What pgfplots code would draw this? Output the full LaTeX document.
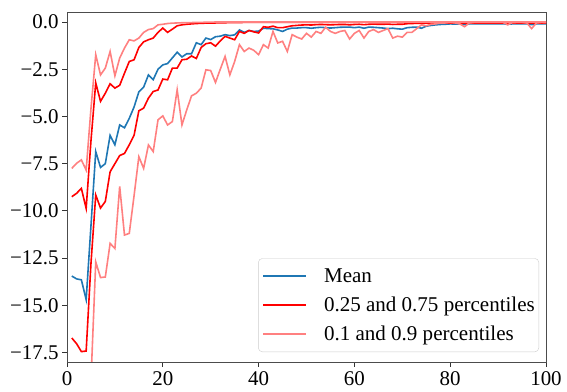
\documentclass[border=0pt]{standalone}
\usepackage{fontspec}
\setmainfont{Liberation Serif}
\usepackage{pgfplots}
\usepackage{pgfplotstable}
\pgfplotsset{compat=1.18}
\definecolor{mplblue}{HTML}{1F77B4}
\definecolor{mplred}{HTML}{FF0000}
\definecolor{mplpale}{HTML}{FF8080}

\pgfplotstableread{
x mean p25 p75 p10 p90
1 -13.45 -16.73 -9.25 -21 -7.75
2 -13.6 -17.03 -9.07 -21.5 -7.48
3 -13.65 -17.45 -8.81 -22 -7.3
4 -14.7 -17.42 -9.87 -22 -7.84
5 -10.8 -12.8 -6.3 -19 -4.6
6 -6.86 -9.16 -3.22 -12.7 -1.73
7 -7.7 -9.85 -4.2 -13.53 -2.8
8 -7.5 -9.5 -3.77 -13.5 -2.44
9 -6.0 -7.93 -3.27 -11.72 -1.56
10 -6.5 -7.5 -3.5 -11.99 -2.85
11 -5.45 -7.07 -3.35 -8.7 -1.91
12 -5.6 -6.96 -2.71 -11.28 -1.38
13 -5.1 -6.5 -2.09 -11.19 -0.94
14 -4.5 -6.0 -2.0 -9.2 -1.0
15 -3.7 -4.7 -1.35 -7.13 -0.85
16 -3.45 -4.56 -1.05 -7.75 -0.55
17 -2.8 -4.03 -0.94 -6.51 -0.4
18 -3.05 -3.68 -0.85 -6.86 -0.35
19 -2.5 -3.6 -0.55 -5.18 -0.15
20 -2.27 -3.02 -0.32 -4.97 -0.12
21 -2.2 -3.06 -0.55 -5.45 -0.08
22 -1.9 -2.44 -0.38 -5.27 -0.06
23 -1.6 -2.44 -0.2 -3.59 -0.05
24 -1.85 -2.0 -0.15 -5.45 -0.04
25 -1.68 -1.97 -0.12 -4.65 -0.03
26 -1.68 -1.8 -0.1 -3.91 -0.03
27 -1.1 -1.93 -0.08 -3.77 -0.02
28 -1.2 -1.35 -0.07 -3.5 -0.02
29 -0.85 -1.15 -0.06 -2.53 -0.01
30 -0.93 -1.1 -0.05 -2.57 -0.01
31 -0.78 -1.28 -0.05 -3.2 0
32 -0.75 -1.0 -0.04 -2.5 0
33 -0.67 -0.76 -0.04 -1.82 0
34 -0.72 -0.85 -0.03 -2.8 0
35 -0.68 -0.94 -0.03 -2.09 0
36 -0.42 -0.5 -0.03 -1.2 0
37 -0.55 -0.6 -0.02 -1.56 0
38 -0.45 -0.45 -0.02 -1.38 0
39 -0.5 -0.52 -0.02 -1.5 0
40 -0.48 -0.58 -0.02 -1.73 0
41 -0.33 -0.25 -0.02 -1.2 0
42 -0.35 -0.28 -0.02 -1.38 0
43 -0.36 -0.22 -0.02 -0.5 0
44 -0.42 -0.3 -0.02 -1.11 0
45 -0.5 -0.3 -0.02 -1.02 0
46 -0.38 -0.25 -0.02 -1.56 0
47 -0.32 -0.2 -0.02 -0.67 0
48 -0.32 -0.18 -0.02 -0.8 0
49 -0.3 -0.16 -0.02 -0.9 0
50 -0.3 -0.15 -0.02 -0.6 0
51 -0.33 -0.16 -0.02 -0.8 0
52 -0.3 -0.14 -0.02 -0.5 0
53 -0.28 -0.13 -0.02 -0.6 0
54 -0.3 -0.14 -0.02 -0.28 0
55 -0.32 -0.15 -0.02 -0.5 0
56 -0.3 -0.14 -0.02 -0.6 0
57 -0.28 -0.13 -0.02 -0.5 0
58 -0.27 -0.13 -0.02 -0.45 0
59 -0.27 -0.15 -0.02 -0.9 0
60 -0.3 -0.13 -0.02 -0.6 0
61 -0.27 -0.12 -0.01 -0.45 0
62 -0.33 -0.14 -0.01 -0.85 0
63 -0.27 -0.12 -0.01 -0.5 0
64 -0.28 -0.11 -0.01 -0.4 0
65 -0.3 -0.12 -0.01 -0.55 0
66 -0.32 -0.12 -0.01 -0.45 0
67 -0.35 -0.11 -0.01 -0.35 0
68 -0.33 -0.13 -0.01 -0.85 0
69 -0.36 -0.12 -0.01 -0.75 0
70 -0.38 -0.12 -0.01 -0.8 0
71 -0.3 -0.09 -0.01 -0.55 0
72 -0.28 -0.08 -0.01 -0.55 0
73 -0.27 -0.07 -0.01 -0.35 0
74 -0.33 -0.07 -0.01 -0.15 0
75 -0.22 -0.06 -0.01 -0.2 0
76 -0.18 -0.05 -0.01 -0.12 0
77 -0.15 -0.05 -0.01 -0.1 0
78 -0.13 -0.05 -0.01 -0.05 0
79 -0.12 -0.05 -0.01 -0.05 0
80 -0.1 -0.05 -0.01 -0.02 0
81 -0.11 -0.05 -0.01 -0.05 0
82 -0.1 -0.05 -0.01 -0.1 0
83 -0.14 -0.05 -0.01 -0.25 0
84 -0.1 -0.05 -0.01 -0.05 0
85 -0.09 -0.05 -0.01 -0.02 0
86 -0.1 -0.05 -0.01 -0.02 0
87 -0.1 -0.05 -0.01 -0.02 0
88 -0.09 -0.05 -0.01 -0.02 0
89 -0.1 -0.05 -0.01 -0.02 0
90 -0.1 -0.05 -0.01 -0.02 0
91 -0.09 -0.05 -0.01 -0.02 0
92 -0.12 -0.05 -0.01 -0.15 0
93 -0.1 -0.05 -0.01 -0.03 0
94 -0.1 -0.05 -0.01 -0.02 0
95 -0.09 -0.05 -0.01 -0.02 0
96 -0.1 -0.05 -0.01 -0.05 0
97 -0.14 -0.05 -0.01 -0.35 0
98 -0.1 -0.05 -0.01 -0.05 0
99 -0.1 -0.05 -0.01 -0.02 0
100 -0.1 -0.05 -0.01 -0.03 0
}\datatable

\begin{document}
\begin{tikzpicture}
\path[use as bounding box] (0,0) rectangle (567bp,392bp);
\begin{axis}[
  at={(67bp,30bp)}, anchor=south west,
  scale only axis, width=479bp, height=350bp,
  xmin=0, xmax=100, ymin=-18.0, ymax=0.53,
  xtick={0,20,40,60,80,100},
  ytick={-17.5,-15,-12.5,-10,-7.5,-5,-2.5,0},
  yticklabels={−17.5,−15.0,−12.5,−10.0,−7.5,−5.0,−2.5,0.0},
  /pgf/number format/assume math mode=true,
  tick align=outside, tick pos=left, major tick length=5bp,
  tick style={black!80, line width=0.8bp},
  axis line style={black!70, line width=0.8bp},
  ticklabel style={font=\fontsize{21}{24}\selectfont},
  xticklabel style={yshift=-1bp},
  legend style={at={(0.985,0.029)}, anchor=south east, draw=black!20,
    rounded corners=4bp, font=\fontsize{21.1}{23}\selectfont,
    outer sep=0pt, inner xsep=4bp, inner ysep=8bp, row sep=9bp, column sep=17bp,
    nodes={inner xsep=0bp}},
  legend cell align=left,
  legend image code/.code={\draw[#1, line width=1.7bp] (0bp,0bp) -- (43bp,0bp);},
  every axis plot/.append style={line width=1.6bp},
]
\addplot[mplblue, no markers] table[x=x, y=mean] {\datatable};
\addlegendentry{Mean}
\addplot[mplred, no markers] table[x=x, y=p25] {\datatable};
\addlegendentry{0.25 and 0.75 percentiles\hspace{8bp}}
\addplot[mplpale, no markers] table[x=x, y=p10] {\datatable};
\addlegendentry{0.1 and 0.9 percentiles}
\addplot[mplred, no markers, forget plot] table[x=x, y=p75] {\datatable};
\addplot[mplpale, no markers, forget plot] table[x=x, y=p90] {\datatable};
\end{axis}
\end{tikzpicture}
\end{document}
